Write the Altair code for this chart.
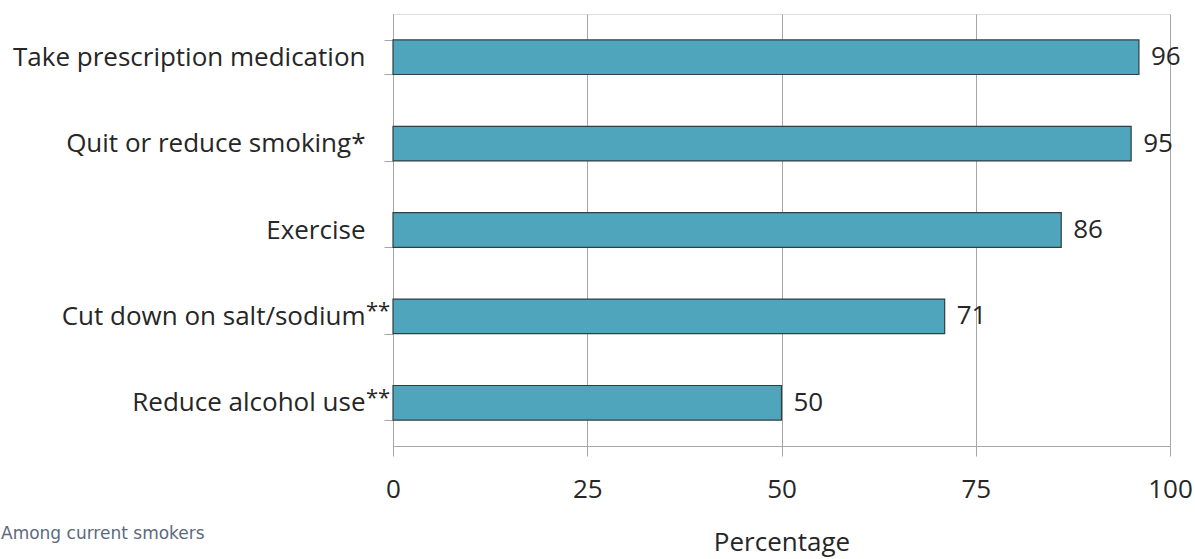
import altair as alt
import pandas as pd

categories = ["Take prescription medication", "Quit or reduce smoking*", "Exercise",
              "Cut down on salt/sodium", "Reduce alcohol use"]
values = [96, 95, 86, 71, 50]
marks = ["", "", "", "**", "**"]
x_ticks = [0, 25, 50, 75, 100]
note = "Among current smokers"

df = pd.DataFrame({"cat": categories, "val": values, "mark": marks})

FONT = "Open Sans"
TXT = "#262626"
FS = 26

y_enc = alt.Y("cat:N", sort=categories, title=None,
              scale=alt.Scale(paddingInner=0.6, paddingOuter=0.3),
              axis=alt.Axis(tickBand="extent", tickSize=9, tickColor="#a6a6a6",
                            domainColor="#a6a6a6", labelPadding=19, labelFont=FONT,
                            labelFontSize=FS, labelColor=TXT, labelLimit=500))

base = alt.Chart(df)

bars = base.mark_bar(color="#4fa5bc", stroke="#2f3f44", strokeWidth=1.2).encode(
    x=alt.X("val:Q", title="Percentage",
            scale=alt.Scale(domain=[0, 100], nice=False),
            axis=alt.Axis(values=x_ticks, grid=True, gridColor="#a6a6a6", tickSize=10,
                          tickColor="#a6a6a6", domainColor="#a6a6a6", labelPadding=20,
                          labelFlush=False,
                          labelFont=FONT, labelFontSize=FS, labelColor=TXT,
                          titleFont=FONT, titleFontSize=FS, titleFontWeight="normal",
                          titleColor=TXT, titlePadding=27)),
    y=y_enc,
)

labels = base.mark_text(align="left", baseline="middle", dx=12, font=FONT,
                        fontSize=FS, color=TXT).encode(
    x="val:Q", y=alt.Y("cat:N", sort=categories), text=alt.Text("val:Q"))

stars = base.mark_text(align="left", baseline="middle", dy=-5, font=FONT,
                       fontSize=22, color=TXT).encode(
    x=alt.value(-27), y=alt.Y("cat:N", sort=categories), text="mark:N")

note_t = alt.Chart(pd.DataFrame({"t": [note]})).mark_text(
    align="left", baseline="middle", font="DejaVu Sans", fontSize=17,
    color="#5b6a80").encode(x=alt.value(-392), y=alt.value(520), text="t:N")

chart = alt.layer(bars, labels, stars, note_t).properties(
    width=777, height=432,
    autosize=alt.AutoSizeParams(type="none"),
    padding={"left": 393, "top": 14, "right": 25, "bottom": 113},
).configure_view(stroke="#a6a6a6", strokeWidth=1).configure(background="white")

chart.save("out.html", embed_options={"renderer": "svg", "actions": False})
